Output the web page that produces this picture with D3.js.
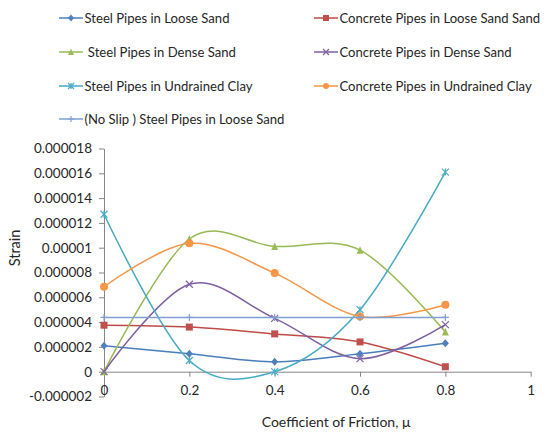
<!DOCTYPE html>
<html>
<head>
<meta charset="utf-8">
<script src="https://cdn.jsdelivr.net/npm/d3@7"></script>
<style>
  html, body { margin: 0; padding: 0; background: #fff; }
  svg { display: block; }
  text { font-family: Lato, "Open Sans", sans-serif; fill: #262626; white-space: pre; }
</style>
</head>
<body>
<svg id="chart" width="544" height="437"></svg>
<script>
// Friction coefficient values on the horizontal axis
const mu = [0, 0.2, 0.4, 0.6, 0.8];

// Strain for each pipe / soil case
const steelLooseSand      = [2.1e-6, 1.45e-6, 0.8e-6, 1.45e-6, 2.3e-6];
const concreteLooseSand   = [3.75e-6, 3.6e-6, 3.05e-6, 2.4e-6, 0.4e-6];
const steelDenseSand      = [0, 10.7e-6, 10.1e-6, 9.8e-6, 3.2e-6];
const concreteDenseSand   = [0, 7.05e-6, 4.3e-6, 1.05e-6, 3.8e-6];
const steelUndrainedClay  = [12.7e-6, 0.9e-6, 0, 5.0e-6, 16.1e-6];
const concreteUndrainedClay = [6.85e-6, 10.35e-6, 7.95e-6, 4.45e-6, 5.4e-6];
const noSlipSteelLooseSand  = [4.38e-6, 4.38e-6, 4.38e-6, 4.38e-6, 4.38e-6];

const seriesNames = [
  "Steel Pipes in Loose Sand",
  "Concrete Pipes in Loose Sand Sand",
  " Steel Pipes in Dense Sand",
  "Concrete Pipes in Dense Sand",
  "Steel Pipes in Undrained Clay",
  "Concrete Pipes in Undrained Clay",
  "(No Slip ) Steel Pipes in Loose Sand"
];

const yTickValues = [-2e-6, 0, 2e-6, 4e-6, 6e-6, 8e-6, 10e-6, 12e-6, 14e-6, 16e-6, 18e-6];
const yTickLabels = ["-0.000002", "0", "0.000002", "0.000004", "0.000006", "0.000008",
                     "0.00001", "0.000012", "0.000014", "0.000016", "0.000018"];
const xTickValues = [0, 0.2, 0.4, 0.6, 0.8, 1];
const xTickLabels = ["0", "0.2", "0.4", "0.6", "0.8", "1"];

const xTitle = "Coefficient of Friction, \u03bc";
const yTitle = "Strain";

// Visual styling per series
const styles = [
  { line: "#4a7ebb", fill: "#4f81bd", marker: "diamond" },
  { line: "#be4b48", fill: "#c0504d", marker: "square" },
  { line: "#98b954", fill: "#9bbb59", marker: "triangle" },
  { line: "#7d60a0", fill: "#8064a2", marker: "x" },
  { line: "#46aac5", fill: "#4bacc6", marker: "star" },
  { line: "#f79646", fill: "#f79646", marker: "circle" },
  { line: "#7f9fd2", fill: "#7f9fd2", marker: "plus" }
];

const seriesValues = [steelLooseSand, concreteLooseSand, steelDenseSand, concreteDenseSand,
                      steelUndrainedClay, concreteUndrainedClay, noSlipSteelLooseSand];

const series = seriesValues.map((vals, i) => ({
  name: seriesNames[i],
  style: styles[i],
  points: vals.map((v, j) => ({ x: mu[j], y: v }))
}));

const svg = d3.select("#chart");
const axisColor = "#868686";

const x = d3.scaleLinear().domain([0, 1]).range([104, 530.7]);
const y = d3.scaleLinear().domain([-2e-6, 18e-6]).range([396.5, 148.5]);

// Vertical axis
const yAxis = d3.axisLeft(y)
  .tickValues(yTickValues)
  .tickFormat((d, i) => yTickLabels[i])
  .tickSize(5)
  .tickSizeOuter(0)
  .tickPadding(7);
const gy = svg.append("g").attr("transform", `translate(${x(0)},0)`).call(yAxis);
gy.select(".domain").attr("stroke", axisColor);
gy.selectAll(".tick line").attr("stroke", axisColor);
gy.selectAll(".tick text").attr("font-size", 13.5).attr("fill", "#262626")
  .style("font-family", "Lato, sans-serif");

// Horizontal axis crosses at zero strain
const xAxis = d3.axisBottom(x)
  .tickValues(xTickValues)
  .tickFormat((d, i) => xTickLabels[i])
  .tickSize(5)
  .tickSizeOuter(0)
  .tickPadding(9);
const gx = svg.append("g").attr("transform", `translate(0,${y(0)})`).call(xAxis);
gx.select(".domain").attr("stroke", axisColor);
gx.selectAll(".tick line").attr("stroke", axisColor);
gx.selectAll(".tick text").attr("font-size", 13.5).attr("fill", "#262626")
  .style("font-family", "Lato, sans-serif");

// Axis titles
svg.append("text")
  .attr("x", 336).attr("y", 427)
  .attr("text-anchor", "middle")
  .attr("font-size", 14)
  .text(xTitle);
svg.append("text")
  .attr("transform", "translate(20,248) rotate(-90)")
  .attr("text-anchor", "middle")
  .attr("font-size", 14.5)
  .text(yTitle);

// Marker shapes
function drawMarker(g, kind, color, s) {
  const h = s / 2;
  if (kind === "diamond") {
    g.append("path").attr("d", `M0,${-h - 0.5}L${h},0L0,${h + 0.5}L${-h},0Z`).attr("fill", color);
  } else if (kind === "square") {
    g.append("rect").attr("x", -h).attr("y", -h).attr("width", s).attr("height", s).attr("fill", color);
  } else if (kind === "triangle") {
    g.append("path").attr("d", `M0,${-h - 0.5}L${h},${h}L${-h},${h}Z`).attr("fill", color);
  } else if (kind === "circle") {
    g.append("circle").attr("r", h).attr("fill", color);
  } else if (kind === "x") {
    g.append("path").attr("d", `M${-h},${-h}L${h},${h}M${-h},${h}L${h},${-h}`)
      .attr("stroke", color).attr("stroke-width", 1.2).attr("fill", "none");
  } else if (kind === "star") {
    g.append("path").attr("d", `M${-h},${-h}L${h},${h}M${-h},${h}L${h},${-h}M0,${-h}L0,${h}`)
      .attr("stroke", color).attr("stroke-width", 1.2).attr("fill", "none");
  } else if (kind === "plus") {
    g.append("path").attr("d", `M${-h},0L${h},0M0,${-h}L0,${h}`)
      .attr("stroke", color).attr("stroke-width", 1.2).attr("fill", "none");
  }
}

// Smoothed series lines
const line = d3.line()
  .x(d => x(d.x))
  .y(d => y(d.y))
  .curve(d3.curveCardinal.tension(0));

const plot = svg.append("g");
series.forEach(s => {
  const g = plot.append("g");
  g.append("path")
    .attr("d", line(s.points))
    .attr("fill", "none")
    .attr("stroke", s.style.line)
    .attr("stroke-width", 1.5);
  s.points.forEach(p => {
    const m = g.append("g").attr("transform", `translate(${x(p.x)},${y(p.y)})`);
    drawMarker(m, s.style.marker, s.style.fill, s.style.marker === "circle" ? 8 : 7);
  });
});

// Legend in two columns
const legendLayout = [
  { col: 0, row: 0 }, { col: 1, row: 0 },
  { col: 0, row: 1 }, { col: 1, row: 1 },
  { col: 0, row: 2 }, { col: 1, row: 2 },
  { col: 0, row: 3 }
];
const colX = [59, 314];
const rowY = [18, 52, 86, 119];
series.forEach((s, i) => {
  const pos = legendLayout[i];
  const lx = colX[pos.col], ly = rowY[pos.row];
  const g = svg.append("g").attr("transform", `translate(${lx},${ly})`);
  g.append("line").attr("x1", 0).attr("x2", 24).attr("y1", 0).attr("y2", 0)
    .attr("stroke", s.style.line).attr("stroke-width", 1.5);
  const m = g.append("g").attr("transform", "translate(12,0)");
  drawMarker(m, s.style.marker, s.style.fill, 6);
  g.append("text").attr("x", 25.5).attr("y", 5).attr("font-size", 13.1).text(s.name);
});
</script>
</body>
</html>
